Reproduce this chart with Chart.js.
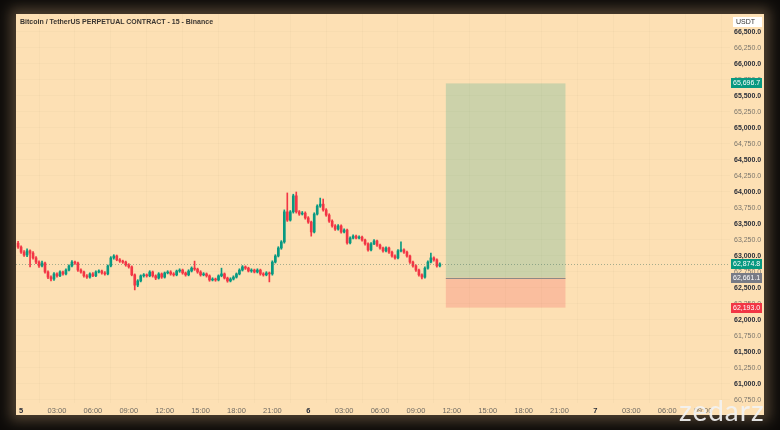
<!DOCTYPE html>
<html>
<head>
<meta charset="utf-8">
<script src="https://cdn.jsdelivr.net/npm/chart.js@4.4.0/dist/chart.umd.min.js"></script>
<style>
html,body{margin:0;padding:0;}
body{width:780px;height:430px;overflow:hidden;background:#0d0b09;position:relative;font-family:"Liberation Sans",Arial,sans-serif;}
#panel{position:absolute;left:16px;top:14px;width:748px;height:401px;background:#fde0b4;box-shadow:0 0 12px 6px rgba(90,74,55,0.85);}
#titol{position:absolute;left:4px;top:4px;font-size:7px;line-height:8px;font-weight:bold;color:#3a3530;white-space:nowrap;}
#marca{position:absolute;left:679px;top:396px;font-family:Lato,"Open Sans",sans-serif;font-weight:normal;font-size:28px;line-height:28px;color:rgba(242,242,242,0.92);letter-spacing:1px;}
</style>
</head>
<body>
<div id="panel">
  <canvas id="grafica" width="748" height="401"></canvas>
  <div id="titol">Bitcoin / TetherUS PERPETUAL CONTRACT - 15 - Binance</div>
</div>
<div id="marca">zedarz</div>
<script>
// DADES: espelmes de 15 min, la barra 0 es el dia 5 a les 00:00
const primeraBarra = -1;

const opens = [
  63200,63140,63060,63015,63080,63045,62970,62905,62845,62890,
  62750,62670,62640,62720,62690,62750,62720,62780,62845,62905,
  62890,62780,62750,62690,62670,62720,62690,62750,62765,62735,
  62720,62845,62970,63000,62940,62920,62905,62860,62830,62705,
  62545,62610,62690,62705,62690,62750,62690,62655,62720,62670,
  62735,62750,62720,62705,62765,62780,62735,62705,62765,62810,
  62795,62750,62705,62720,62690,62625,62640,62625,62690,62720,
  62655,62610,62640,62670,62720,62780,62830,62810,62765,62780,
  62750,62780,62720,62705,62735,62720,62905,63000,63125,63220,
  63690,63560,63690,63940,63690,63655,63670,63595,63530,63375,
  63655,63780,63810,63720,63640,63545,63470,63420,63470,63375,
  63405,63205,63280,63310,63280,63295,63250,63190,63095,63190,
  63235,63170,63125,63080,63125,63060,63000,62970,63080,63095,
  63060,63000,62905,62845,62780,62705,62670,62810,62905,62970,
  62940,62845
];
const highs = [
  63230,63160,63085,63110,63095,63070,62990,62925,62920,62905,
  62770,62690,62740,62735,62770,62765,62800,62860,62930,62920,
  62905,62800,62765,62710,62735,62740,62770,62785,62780,62755,
  62860,62990,63020,63015,62960,62935,62920,62880,62845,62720,
  62630,62705,62725,62720,62770,62765,62705,62740,62735,62750,
  62770,62770,62740,62780,62800,62795,62750,62785,62830,62920,
  62810,62770,62740,62735,62705,62660,62655,62705,62810,62735,
  62670,62660,62690,62735,62800,62850,62845,62825,62800,62795,
  62800,62795,62740,62755,62750,62925,63020,63145,63240,63720,
  63985,63710,63965,64000,63710,63695,63690,63615,63545,63675,
  63800,63905,63890,63740,63660,63565,63490,63490,63485,63425,
  63420,63300,63330,63325,63315,63310,63265,63205,63210,63255,
  63250,63185,63140,63145,63140,63075,63020,63100,63220,63110,
  63075,63015,62920,62860,62795,62720,62830,62925,63045,62985,
  62955,62895
];
const lows = [
  63120,63040,62995,62990,62830,62950,62880,62820,62830,62730,
  62645,62610,62620,62670,62675,62700,62705,62765,62830,62870,
  62760,62730,62670,62650,62655,62675,62675,62735,62715,62700,
  62705,62830,62950,62925,62900,62885,62840,62810,62690,62470,
  62520,62595,62670,62670,62675,62670,62630,62640,62650,62655,
  62720,62700,62685,62690,62745,62715,62685,62690,62750,62775,
  62730,62685,62690,62670,62605,62610,62605,62610,62675,62640,
  62590,62595,62625,62655,62705,62765,62790,62750,62745,62735,
  62735,62700,62685,62690,62595,62700,62890,62985,63105,63200,
  63540,63545,63670,63670,63635,63640,63575,63510,63310,63360,
  63640,63760,63700,63620,63525,63450,63400,63405,63355,63360,
  63185,63190,63265,63265,63265,63230,63170,63075,63080,63175,
  63150,63105,63060,63065,63040,62980,62950,62955,63065,63040,
  62980,62885,62825,62760,62685,62640,62655,62795,62890,62920,
  62825,62830
];
const closes = [
  63140,63060,63015,63080,63045,62970,62905,62845,62890,62750,
  62670,62640,62720,62690,62750,62720,62780,62845,62905,62890,
  62780,62750,62690,62670,62720,62690,62750,62765,62735,62720,
  62845,62970,63000,62940,62920,62905,62860,62830,62705,62545,
  62610,62690,62705,62690,62750,62690,62655,62720,62670,62735,
  62750,62720,62705,62765,62780,62735,62705,62765,62810,62795,
  62750,62705,62720,62690,62625,62640,62625,62690,62720,62655,
  62610,62640,62670,62720,62780,62830,62810,62765,62780,62750,
  62780,62720,62705,62735,62720,62905,63000,63125,63220,63690,
  63560,63690,63940,63690,63655,63670,63595,63530,63375,63655,
  63780,63810,63720,63640,63545,63470,63420,63470,63375,63405,
  63205,63280,63310,63280,63295,63250,63190,63095,63190,63235,
  63170,63125,63080,63125,63060,63000,62970,63080,63095,63060,
  63000,62905,62845,62780,62705,62670,62810,62905,62970,62940,
  62845,62874.8
];

// etiquetes eix X, una cada 12 barres (3 hores)
const etiquetesX = ["5","03:00","06:00","09:00","12:00","15:00","18:00","21:00",
  "6","03:00","06:00","09:00","12:00","15:00","18:00","21:00",
  "7","03:00","06:00","09:00"];
const marquesY = [60750,61000,61250,61500,61750,62000,62250,62500,62750,63000,
  63250,63500,63750,64000,64250,64500,64750,65000,65250,65500,65750,66000,66250,66500];

// posicio llarga
const entrada = 62661.1;
const objectiu = 65696.7;
const stopLoss = 62193.0;
const posInici = 142;
const posFi = 182;
const preuActual = 62874.8;

const VERD = "#089981";
const VERMELL = "#f23645";
const GRIS = "#787b86";
const FONT = "'Liberation Sans', Arial, sans-serif";

let velas = closes.map((c, k) => ({x: primeraBarra + k, y: [opens[k], c]}));
let metxes = closes.map((c, k) => ({x: primeraBarra + k, y: [lows[k], highs[k]]}));
let colors = closes.map((c, k) => (c >= opens[k] ? VERD : VERMELL));

function etiquetaPreu(ctx, valor, color, y) {
  ctx.fillStyle = color;
  ctx.fillRect(715, Math.round(y) - 5, 31, 10);
  ctx.fillStyle = "#ffffff";
  ctx.font = "7px " + FONT;
  ctx.textBaseline = "middle";
  ctx.textAlign = "left";
  ctx.fillText(valor.toLocaleString("en-US", {minimumFractionDigits: 1, maximumFractionDigits: 1}), 717, Math.round(y) + 0.5);
}

const capaPosicio = {
  id: "capaPosicio",
  beforeDatasetsDraw(chart) {
    const {ctx, scales: {x, y}} = chart;
    const x0 = x.getPixelForValue(posInici), x1 = x.getPixelForValue(posFi);
    const yT = y.getPixelForValue(objectiu), yE = y.getPixelForValue(entrada), yS = y.getPixelForValue(stopLoss);
    ctx.save();
    ctx.fillStyle = "rgba(8,153,129,0.2)";
    ctx.fillRect(x0, yT, x1 - x0, yE - yT);
    ctx.fillStyle = "rgba(242,54,69,0.2)";
    ctx.fillRect(x0, yE, x1 - x0, yS - yE);
    ctx.restore();
  },
  afterDatasetsDraw(chart) {
    const {ctx, chartArea: a, scales: {x, y}} = chart;
    ctx.save();
    // linia preu actual
    const yP = Math.round(y.getPixelForValue(preuActual)) + 0.5;
    ctx.strokeStyle = "rgba(80,120,100,0.5)";
    ctx.lineWidth = 1;
    ctx.setLineDash([1, 2]);
    ctx.beginPath();
    ctx.moveTo(a.left, yP);
    ctx.lineTo(a.right, yP);
    ctx.stroke();
    // linia entrada
    ctx.setLineDash([]);
    const yE = Math.round(y.getPixelForValue(entrada)) + 0.5;
    ctx.strokeStyle = "#8d8a86";
    ctx.beginPath();
    ctx.moveTo(x.getPixelForValue(posInici), yE);
    ctx.lineTo(x.getPixelForValue(posFi), yE);
    ctx.stroke();
    ctx.restore();
  },
  afterDraw(chart) {
    const {ctx, scales: {y}} = chart;
    ctx.save();
    etiquetaPreu(ctx, objectiu, VERD, y.getPixelForValue(objectiu));
    etiquetaPreu(ctx, preuActual, VERD, y.getPixelForValue(preuActual));
    etiquetaPreu(ctx, entrada, GRIS, y.getPixelForValue(entrada));
    etiquetaPreu(ctx, stopLoss, VERMELL, y.getPixelForValue(stopLoss));
    // caixa USDT
    ctx.fillStyle = "#ffffff";
    ctx.fillRect(717, 3, 29, 10);
    ctx.fillStyle = "#333333";
    ctx.font = "7px " + FONT;
    ctx.textBaseline = "middle";
    ctx.fillText("USDT", 720, 8.5);
    ctx.restore();
  }
};

const config = {
  type: "bar",
  data: {
    datasets: [
      {data: velas, backgroundColor: colors, barThickness: 2, minBarLength: 1, grouped: false, order: 0},
      {data: metxes, backgroundColor: colors, barThickness: 1, grouped: false, order: 1}
    ]
  },
  options: {
    responsive: false,
    animation: false,
    layout: {padding: 0},
    plugins: {legend: {display: false}, tooltip: {enabled: false}},
    scales: {
      x: {
        type: "linear",
        min: -1.7,
        max: 237,
        offset: false,
        afterBuildTicks: (s) => { s.ticks = etiquetesX.map((t, k) => ({value: k * 12})); },
        afterFit: (s) => { s.height = 12; s.paddingLeft = 0; s.paddingRight = 0; },
        grid: {color: "rgba(110,90,60,0.03)", drawTicks: false},
        border: {display: false},
        ticks: {
          autoSkip: false,
          maxRotation: 0,
          padding: 3,
          callback: (v) => etiquetesX[Math.round(v / 12)],
          font: (c) => ({family: FONT, size: 7.5, weight: (c.tick && c.tick.value % 96 === 0) ? "bold" : "normal"}),
          color: (c) => (c.tick && c.tick.value % 96 === 0) ? "#2a2e39" : "#6f6a62"
        }
      },
      y: {
        position: "right",
        min: 60703,
        max: 66781,
        afterBuildTicks: (s) => { s.ticks = marquesY.map((v) => ({value: v})); },
        afterFit: (s) => { s.width = 34; s.paddingTop = 0; s.paddingBottom = 0; },
        grid: {color: "rgba(110,90,60,0.03)", drawTicks: false},
        border: {display: false},
        ticks: {
          padding: 4,
          callback: (v) => v.toLocaleString("en-US", {minimumFractionDigits: 1, maximumFractionDigits: 1}),
          font: (c) => ({family: FONT, size: 7, weight: (c.tick && c.tick.value % 500 === 0) ? "bold" : "normal"}),
          color: (c) => (c.tick && c.tick.value % 500 === 0) ? "#2a2e39" : "#7a756c"
        }
      }
    }
  },
  plugins: [capaPosicio]
};

const grafica = new Chart(document.getElementById("grafica"), config);
</script>
</body>
</html>
